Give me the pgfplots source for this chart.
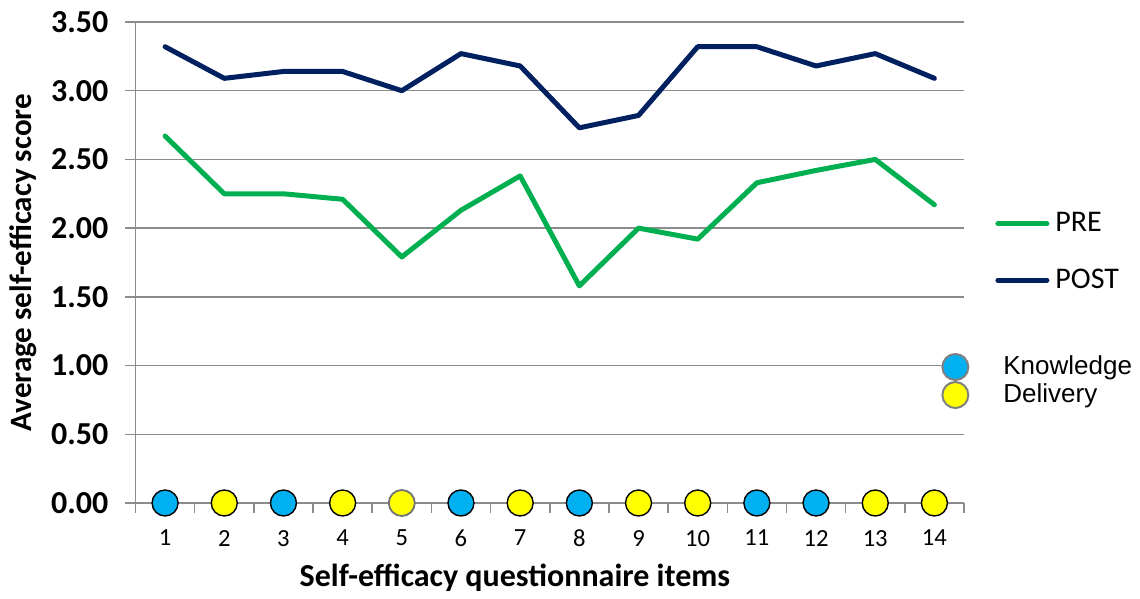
\documentclass[border=0pt]{standalone}
\usepackage{fontspec}
\setmainfont{Carlito}
\newfontfamily\arialf{Liberation Sans}
\usepackage{pgfplots}
\pgfplotsset{compat=1.18}
\definecolor{pre}{HTML}{00B050}
\definecolor{post}{HTML}{002060}
\definecolor{kblue}{HTML}{00B0F0}
\definecolor{dyel}{HTML}{FFFF00}
\definecolor{gridc}{HTML}{8C8C8C}
\begin{document}
\begin{tikzpicture}
\begin{axis}[
  name=main,
  at={(0,0)}, anchor=south west,
  scale only axis, width=414.25pt, height=240.5pt,
  xmin=0.5, xmax=14.5, ymin=0, ymax=3.5,
  axis x line*=bottom, axis y line*=left,
  axis line style={gridc, line width=0.75pt},
  tick style={gridc, line width=0.75pt},
  tick align=outside, major tick length=5pt,
  xtick={0.5,1.5,...,14.5}, xticklabels={},
  extra x ticks={1,2,...,14},
  extra x tick labels={1,2,3,4,5,6,7,8,9,10,11,12,13,14},
  extra x tick style={grid=none, major tick length=0pt, tick label style={font=\fontsize{12.3}{14}\selectfont, yshift=-10pt}},
  ytick={0,0.5,...,3.5},
  yticklabel={\pgfmathprintnumber[fixed,fixed zerofill,precision=2,assume math mode=true]{\tick}},
  yticklabel style={font=\bfseries\fontsize{16}{19}\selectfont, xshift=-5pt},
  ymajorgrids, grid style={gridc, line width=0.75pt},
  ylabel={Average self-efficacy score},
  ylabel style={at={(axis description cs:-0.1358,0.5)}, anchor=center, font=\bfseries\fontsize{15.5}{18}\selectfont},
  xlabel={Self-efficacy questionnaire items},
  xlabel style={at={(axis description cs:0.458,-0.1746)}, anchor=base, font=\bfseries\fontsize{16}{19}\selectfont},
  legend style={at={(1.0374,0.5218)}, anchor=west, draw=none, fill=none, inner sep=0pt, row sep=17pt,
    nodes={inner sep=0pt, font=\fontsize{15}{18}\selectfont}},
  legend cell align=left,
  legend image code/.code={\draw[#1, line cap=round] (1.25pt,0pt) -- (25.75pt,0pt); \path[draw=none,fill=none] (0pt,0pt) -- (30pt,0pt);},
]
\addplot[pre, line width=2.5pt, line cap=round, line join=round] coordinates {
  (1,2.67)(2,2.25)(3,2.25)(4,2.21)(5,1.79)(6,2.13)(7,2.38)(8,1.58)(9,2.00)(10,1.92)(11,2.33)(12,2.42)(13,2.50)(14,2.17)};
\addlegendentry{PRE}
\addplot[post, line width=2.5pt, line cap=round, line join=round] coordinates {
  (1,3.32)(2,3.09)(3,3.14)(4,3.14)(5,3.00)(6,3.27)(7,3.18)(8,2.73)(9,2.82)(10,3.32)(11,3.32)(12,3.18)(13,3.27)(14,3.09)};
\addlegendentry{POST}
\end{axis}
\begin{axis}[
  at={(0,0)}, anchor=south west,
  scale only axis, width=414.25pt, height=240.5pt,
  xmin=0.5, xmax=14.5, ymin=0, ymax=3.5,
  hide axis, clip=false,
  legend style={at={(0.9722,0.2536)}, anchor=west, draw=none, fill=none, inner sep=0pt, row sep=1pt,
    nodes={inner sep=0pt, font=\arialf\fontsize{13}{15.6}\selectfont}},
  legend cell align=left,
  legend image code/.code={\path[draw=none,fill=none] (-7pt,0pt) -- (24pt,0pt); \draw[#1] plot coordinates {(0pt,0pt)};},
]
\addplot[only marks, mark=*, mark size=6.5pt, mark options={fill=kblue, draw=black, line width=0.7pt}, forget plot]
  coordinates {(1,0)(3,0)(6,0)(8,0)(11,0)(12,0)};
\addplot[only marks, mark=*, mark size=6.5pt, mark options={fill=dyel, draw=black, line width=0.7pt}, forget plot]
  coordinates {(2,0)(4,0)(7,0)(9,0)(10,0)(13,0)(14,0)};
\addplot[only marks, mark=*, mark size=6.5pt, mark options={fill=dyel, draw=black!55, line width=0.9pt}, forget plot]
  coordinates {(5,0)};
\addlegendimage{only marks, mark=*, mark size=6.5pt, mark options={fill=kblue, draw=black!50, line width=1pt}}
\addlegendentry{Knowledge}
\addlegendimage{only marks, mark=*, mark size=6.5pt, mark options={fill=dyel, draw=black!50, line width=1pt}}
\addlegendentry{Delivery}
\end{axis}
\path[use as bounding box] (-67.75pt,-46.5pt) rectangle (502.25pt,251.5pt);
\end{tikzpicture}
\end{document}
